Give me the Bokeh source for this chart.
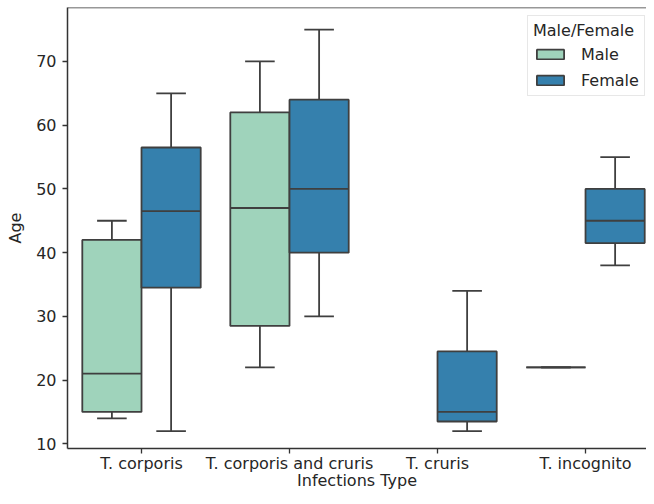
from bokeh.plotting import figure
from bokeh.models import Range1d, FixedTicker, Legend, LegendItem, ColumnDataSource, Span
from bokeh.embed import file_html
from bokeh.resources import INLINE

categories = ["T. corporis", "T. corporis and cruris", "T. cruris", "T. incognito"]
hue_labels = ["Male", "Female"]
x_title = "Infections Type"
y_title = "Age"

male_low = [14, 22, None, 22]
male_q1 = [15, 28.5, None, 22]
male_med = [21, 47, None, 22]
male_q3 = [42, 62, None, 22]
male_high = [45, 70, None, 22]

female_low = [12, 30, 12, 38]
female_q1 = [34.5, 40, 13.5, 41.5]
female_med = [46.5, 50, 15, 45]
female_q3 = [56.5, 64, 24.5, 50]
female_high = [65, 75, 34, 55]

y_ticks = [10, 20, 30, 40, 50, 60, 70]

FONT = "DejaVu Sans"
FS = "16px"
EDGE = "#3f3f3f"
TXT = "#262626"
COLORS = ["#9fd3bb", "#3580ad"]
BOX_W = 0.4
CAP_W = 0.2
LW = 1.8
Y0, Y1 = 9.26, 78.47
W, H = 646, 496
BL, BB = 67, 48

p = figure(width=W, height=H, output_backend="svg", toolbar_location=None,
           x_range=Range1d(-0.5, 3.412), y_range=Range1d(Y0, Y1),
           min_border_left=BL, min_border_right=0, min_border_top=7, min_border_bottom=BB)
p.xgrid.visible = False
p.ygrid.visible = False
p.outline_line_color = None
p.background_fill_color = "white"
p.border_fill_color = "white"

renderers = []
series = [
    (male_low, male_q1, male_med, male_q3, male_high, -0.2),
    (female_low, female_q1, female_med, female_q3, female_high, 0.2),
]
for (lo, q1, med, q3, hi, off), color in zip(series, COLORS):
    xs, L, Q1, M, Q3, HI = [], [], [], [], [], []
    for i in range(len(categories)):
        if q1[i] is None:
            continue
        xs.append(i + off)
        L.append(lo[i]); Q1.append(q1[i]); M.append(med[i]); Q3.append(q3[i]); HI.append(hi[i])
    src = ColumnDataSource(dict(x=xs, lo=L, q1=Q1, med=M, q3=Q3, hi=HI,
                                xl=[x - BOX_W / 2 for x in xs], xr=[x + BOX_W / 2 for x in xs],
                                cl=[x - CAP_W / 2 for x in xs], cr=[x + CAP_W / 2 for x in xs]))
    p.segment(x0="x", y0="q3", x1="x", y1="hi", source=src, line_color=EDGE, line_width=LW)
    p.segment(x0="x", y0="q1", x1="x", y1="lo", source=src, line_color=EDGE, line_width=LW)
    p.segment(x0="cl", y0="hi", x1="cr", y1="hi", source=src, line_color=EDGE, line_width=LW)
    p.segment(x0="cl", y0="lo", x1="cr", y1="lo", source=src, line_color=EDGE, line_width=LW)
    r = p.vbar(x="x", width=BOX_W, bottom="q1", top="q3", source=src,
               fill_color=color, line_color=EDGE, line_width=LW)
    p.segment(x0="xl", y0="med", x1="xr", y1="med", source=src, line_color=EDGE, line_width=LW)
    renderers.append(r)

# top spine only (the right spine lies outside the reference crop)
p.add_layout(Span(location=Y1, dimension="width", line_color="#333333", line_width=1.5))

for ax in (p.xaxis[0], p.yaxis[0]):
    ax.axis_line_color = "#333333"
    ax.axis_line_width = 1.5
    ax.major_tick_line_color = "#333333"
    ax.major_tick_line_width = 1.3
    ax.major_tick_out = 5
    ax.major_tick_in = 0
    ax.minor_tick_line_color = None
    ax.major_label_text_font = FONT
    ax.major_label_text_font_size = FS
    ax.major_label_text_color = TXT
    ax.axis_label_text_font = FONT
    ax.axis_label_text_font_size = FS
    ax.axis_label_text_font_style = "normal"
    ax.axis_label_text_color = TXT

p.xaxis.ticker = FixedTicker(ticks=list(range(len(categories))))
p.xaxis.major_label_overrides = {i: c for i, c in enumerate(categories)}
p.xaxis.axis_label = x_title
p.xaxis.major_label_standoff = 0
p.xaxis.axis_label_standoff = -5
p.yaxis.ticker = FixedTicker(ticks=y_ticks)
p.yaxis.axis_label = y_title
p.yaxis.major_label_standoff = 6
p.yaxis.axis_label_standoff = 8

legend = Legend(items=[LegendItem(label=hue_labels[k], renderers=[renderers[k]]) for k in range(2)],
                location=(460, 352), title="Male/Female")
legend.title_text_font = FONT
legend.title_text_font_size = FS
legend.title_text_font_style = "normal"
legend.title_text_color = TXT
legend.label_text_font = FONT
legend.label_text_font_size = FS
legend.label_text_color = TXT
legend.glyph_width = 34
legend.glyph_height = 12
legend.label_height = 20
legend.spacing = 6
legend.padding = 5
legend.title_standoff = 4
legend.label_standoff = 14
legend.border_line_color = "#d0d0d0"
legend.border_line_width = 1
legend.background_fill_alpha = 0.9
p.add_layout(legend, "center")

open("out.html", "w").write(file_html(p, INLINE))
